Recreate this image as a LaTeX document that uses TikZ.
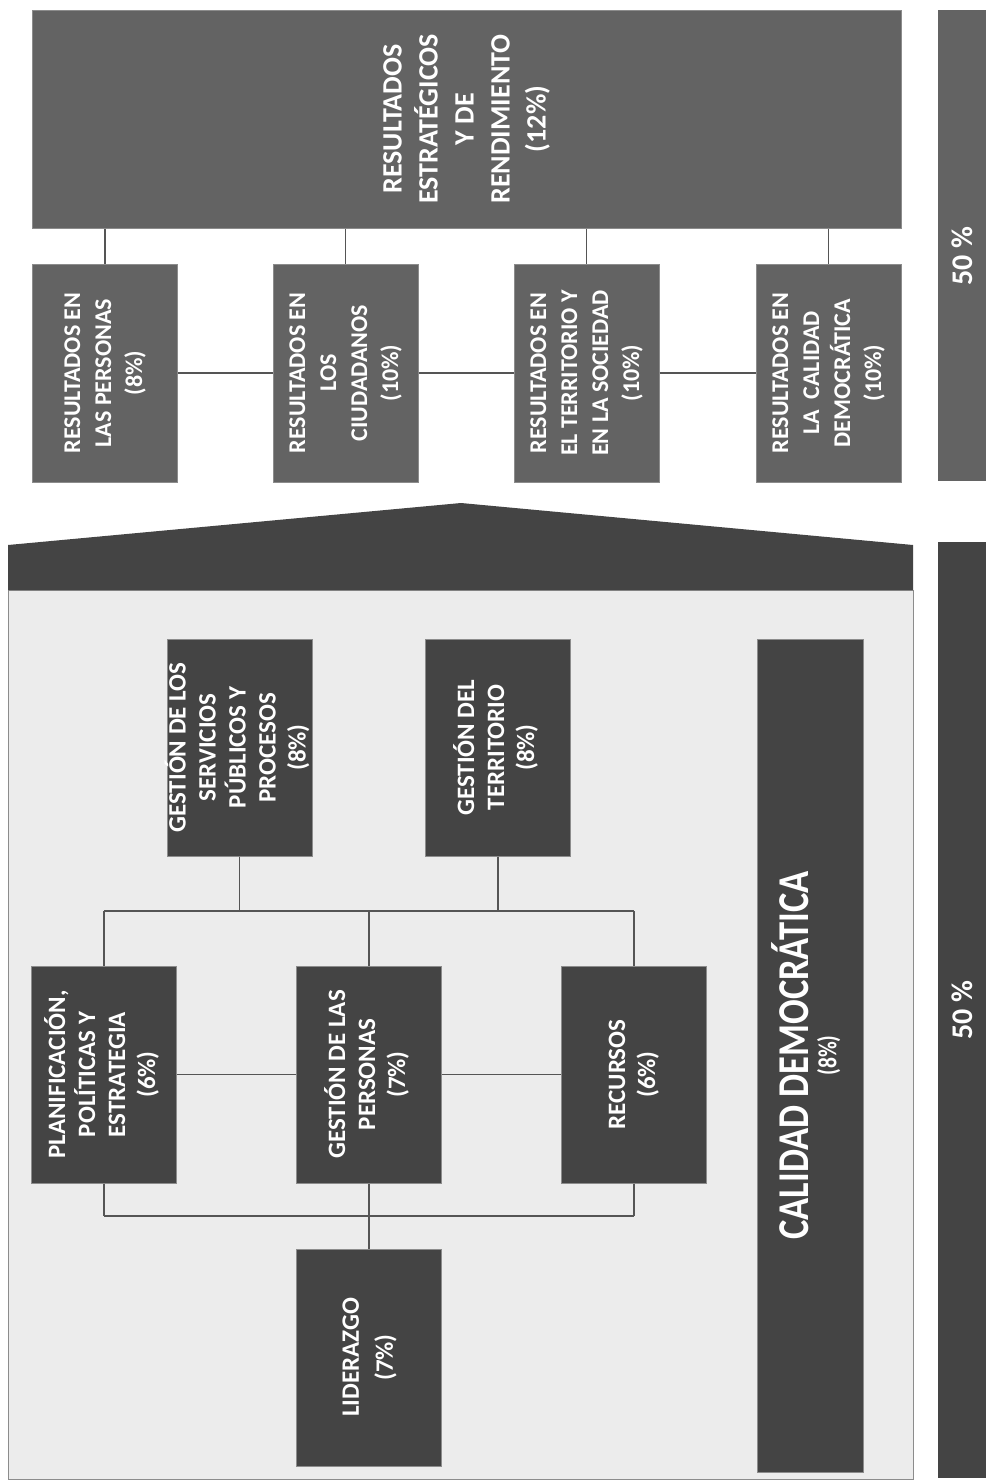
\documentclass[tikz,border=0pt]{standalone}
\usepackage{fontspec}
\setmainfont{Carlito}
\newfontfamily\condfont{Carlito}[FakeStretch=0.83]
\definecolor{midgray}{HTML}{636363}
\definecolor{darkgray}{HTML}{444444}
\definecolor{bodygray}{HTML}{ECECEC}
\definecolor{edgegray}{HTML}{8C8C8C}
\definecolor{linegray}{HTML}{555555}
\newcommand{\rtext}[1]{\makebox[0pt]{\rotatebox{90}{\begin{tabular}{@{}c@{}}#1\end{tabular}}}}
\begin{document}
\begin{tikzpicture}[x=1pt,y=-1pt,
  boxbase/.style={rectangle, inner sep=0pt, draw=edgegray, line width=1pt, text=white, font=\bfseries},
  midbox/.style={boxbase, fill=midgray},
  darkbox/.style={boxbase, fill=darkgray},
  resbox/.style={midbox, minimum width=145pt, minimum height=218pt, font=\bfseries\fontsize{24}{31}\selectfont},
  critbox/.style={darkbox, minimum width=145pt, minimum height=217pt, font=\bfseries\fontsize{25}{30}\selectfont},
  pctbar/.style={boxbase, draw=none, minimum width=48pt, font=\bfseries\fontsize{30}{34}\selectfont},
  conn/.style={draw=linegray, line width=1.5pt}
]
\useasboundingbox[fill=white] (0,0) rectangle (986,1481);

% ---------- upper section ----------
\node[midbox, minimum width=869pt, minimum height=218pt, font=\bfseries\fontsize{28}{36}\selectfont]
  (T) at (466.5,119) {\rtext{RESULTADOS\\ESTRATÉGICOS\\Y DE\\RENDIMIENTO\\(12\%)}};

\node[resbox] (R1) at (105,373) {\rtext{RESULTADOS EN\\LAS PERSONAS\\(8\%)}};
\node[resbox] (R2) at (345.5,373) {\rtext{RESULTADOS EN\\LOS\\CIUDADANOS\\(10\%)}};
\node[resbox] (R3) at (586.5,373) {\rtext{RESULTADOS EN\\EL TERRITORIO Y\\EN LA SOCIEDAD\\(10\%)}};
\node[resbox] (R4) at (828.5,373) {\rtext{RESULTADOS EN\\LA~ CALIDAD\\DEMOCRÁTICA\\(10\%)}};

\fill[midgray] (938,10) rectangle (986,481);
\node[pctbar, fill=none] (P1) at (962,256) {\rotatebox{90}{50 \%}};

\foreach \r in {R1,R2,R3,R4}{
  \draw[conn] (\r.north) -- (\r.north |- T.south);
}
\draw[conn] (R1.east) -- (R2.west);
\draw[conn] (R2.east) -- (R3.west);
\draw[conn] (R3.east) -- (R4.west);

% ---------- lower section (house) ----------
\fill[bodygray, draw=edgegray, line width=1pt] (8,590) rectangle (913,1479);
\fill[darkgray] (8,590) -- (8,545) -- (461,503) -- (913,545) -- (913,590) -- cycle;

\fill[darkgray] (938,542) rectangle (986,1478);
\node[pctbar, fill=none] (P2) at (962,1010) {\rotatebox{90}{50 \%}};

\node[critbox] (S) at (239.5,747.5) {\rtext{GESTIÓN DE LOS\\SERVICIOS\\PÚBLICOS Y\\PROCESOS\\(8\%)}};
\node[critbox] (G) at (498,747.5) {\rtext{GESTIÓN DEL\\TERRITORIO\\(8\%)}};
\node[darkbox, minimum width=106pt, minimum height=833pt, font=\condfont\bfseries\fontsize{44}{40}\selectfont] (C) at (810,1055.5)
  {\rotatebox{90}{\begin{tabular}{@{}c@{}}CALIDAD DEMOCRÁTICA\\[-12pt]{\fontsize{26}{28}\selectfont (8\%)}\end{tabular}}};

\node[critbox] (PL) at (104,1074.5) {\rtext{PLANIFICACIÓN,\\POLÍTICAS Y\\ESTRATEGIA\\(6\%)}};
\node[critbox] (PE) at (369,1074.5) {\rtext{GESTIÓN DE LAS\\PERSONAS\\(7\%)}};
\node[critbox] (RC) at (634,1074.5) {\rtext{RECURSOS\\(6\%)}};
\node[critbox, font=\bfseries\fontsize{25}{34}\selectfont] (L) at (369,1357.5) {\rtext{LIDERAZGO\\(7\%)}};

\coordinate (bus) at (0,911);
\coordinate (bot) at (0,1216);

\draw[conn] (S.south) -- (S.south |- bus);
\draw[conn] (G.south) -- (G.south |- bus);
\draw[conn] (PL.north |- bus) -- (RC.north |- bus);
\draw[conn] (PL.north) -- (PL.north |- bus);
\draw[conn] (PE.north) -- (PE.north |- bus);
\draw[conn] (RC.north) -- (RC.north |- bus);

\draw[conn] (PL.east) -- (PE.west);
\draw[conn] (PE.east) -- (RC.west);

\draw[conn] (PL.south) -- (PL.south |- bot);
\draw[conn] (RC.south) -- (RC.south |- bot);
\draw[conn] (PL.south |- bot) -- (RC.south |- bot);
\draw[conn] (PE.south) -- (L.north);
\end{tikzpicture}
\end{document}
